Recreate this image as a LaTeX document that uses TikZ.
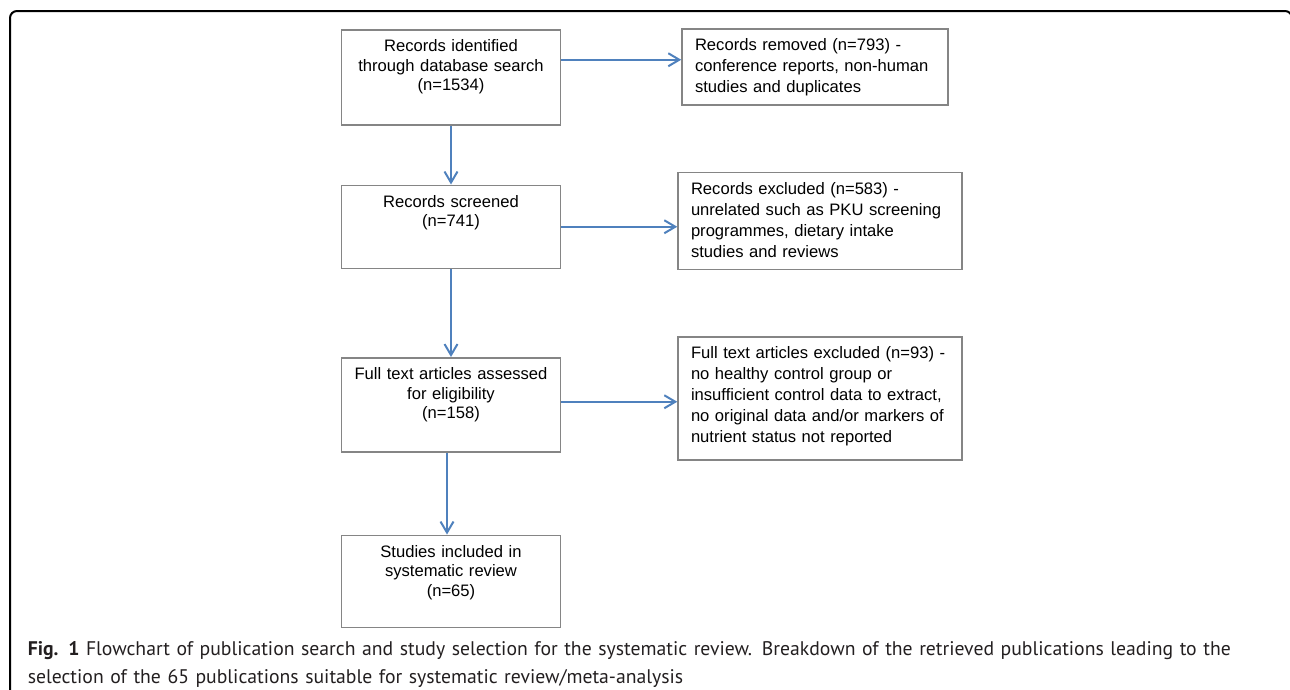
\documentclass[tikz,border=0pt]{standalone}
\usepackage{fontspec}
\setmainfont{Liberation Sans}
\newfontfamily\capfont{PT Sans}
\usetikzlibrary{arrows.meta,positioning}
\definecolor{flowblue}{HTML}{4F81BD}
\definecolor{boxgray}{HTML}{858585}
\definecolor{captext}{HTML}{231F20}

\begin{document}
\begin{tikzpicture}[x=1pt,y=-1pt,line width=1.5pt,
    >={Straight Barb[length=11pt,width=13pt]},
    flow/.style={->,draw=flowblue,line width=2pt},
    lbox/.style={draw=boxgray,text width=203pt,align=center,inner xsep=8pt,inner ysep=8pt,text height=14pt,font=\fontsize{16.6}{19.5}\selectfont},
    rbox/.style={draw=boxgray,align=left,inner xsep=13pt,inner ysep=8pt,text height=14pt,font=\fontsize{16.6}{21}\selectfont},
    caption/.style={text=captext,text width=1260pt,align=left,inner sep=0pt,font=\capfont\fontsize{19.7}{28}\selectfont}]
  \useasboundingbox (0,0) rectangle (1290,689);
  \draw[line width=2pt,rounded corners=7pt] (10,700) -- (10,11) -- (1292,11) -- (1292,700);

  \node[lbox,text depth=65pt,anchor=north] (rec) at (451,29)            {Records identified\\through database search\\(n=1534)};
  \node[lbox,text depth=53pt] (scr) [below=59pt of rec]                 {Records screened\\(n=741)};
  \node[lbox,text depth=64pt] (ful) [below=88pt of scr]                 {Full text articles assessed\\for eligibility\\(n=158)};
  \node[lbox,text depth=62pt] (inc) [below=82pt of ful]                 {Studies included in\\systematic review\\(n=65)};

  \node[rbox,text width=240pt,text depth=46pt] (rem) [right=120pt of rec.north east,anchor=north west,yshift=1pt]
    {Records removed (n=793) -\\conference reports, non-human\\studies and duplicates};
  \node[rbox,text width=258pt,text depth=67pt] (exc) [right=116pt of scr.north east,anchor=north west,yshift=13pt]
    {Records excluded (n=583) -\\unrelated such as PKU screening\\programmes, dietary intake\\studies and reviews};
  \node[rbox,text width=258pt,text depth=93pt] (fex) [right=116pt of ful.north east,anchor=north west,yshift=21pt]
    {Full text articles excluded (n=93) -\\no healthy control group or\\insufficient control data to extract,\\no original data and/or markers of\\nutrient status not reported};

  \coordinate (out1) at ([yshift=17.5pt]rec.east);
  \coordinate (out3) at ([yshift=3pt]ful.east);

  \path (rec) edge[flow] (scr)
        (scr) edge[flow] (ful)
        ([xshift=-4pt]ful.south) edge[flow] ([xshift=-4pt]inc.north)
        (out1) edge[flow] (out1 -| rem.west)
        (scr.east) edge[flow] (scr.east -| exc.west)
        (out3) edge[flow] (out3 -| fex.west);

  \node[caption,anchor=base west] (cap) at (27,655)
    {\textbf{Fig. 1} Flowchart of publication search and study selection for the systematic review. Breakdown of the retrieved publications leading to the\\selection of the 65 publications suitable for systematic review/meta-analysis};
\end{tikzpicture}
\end{document}
